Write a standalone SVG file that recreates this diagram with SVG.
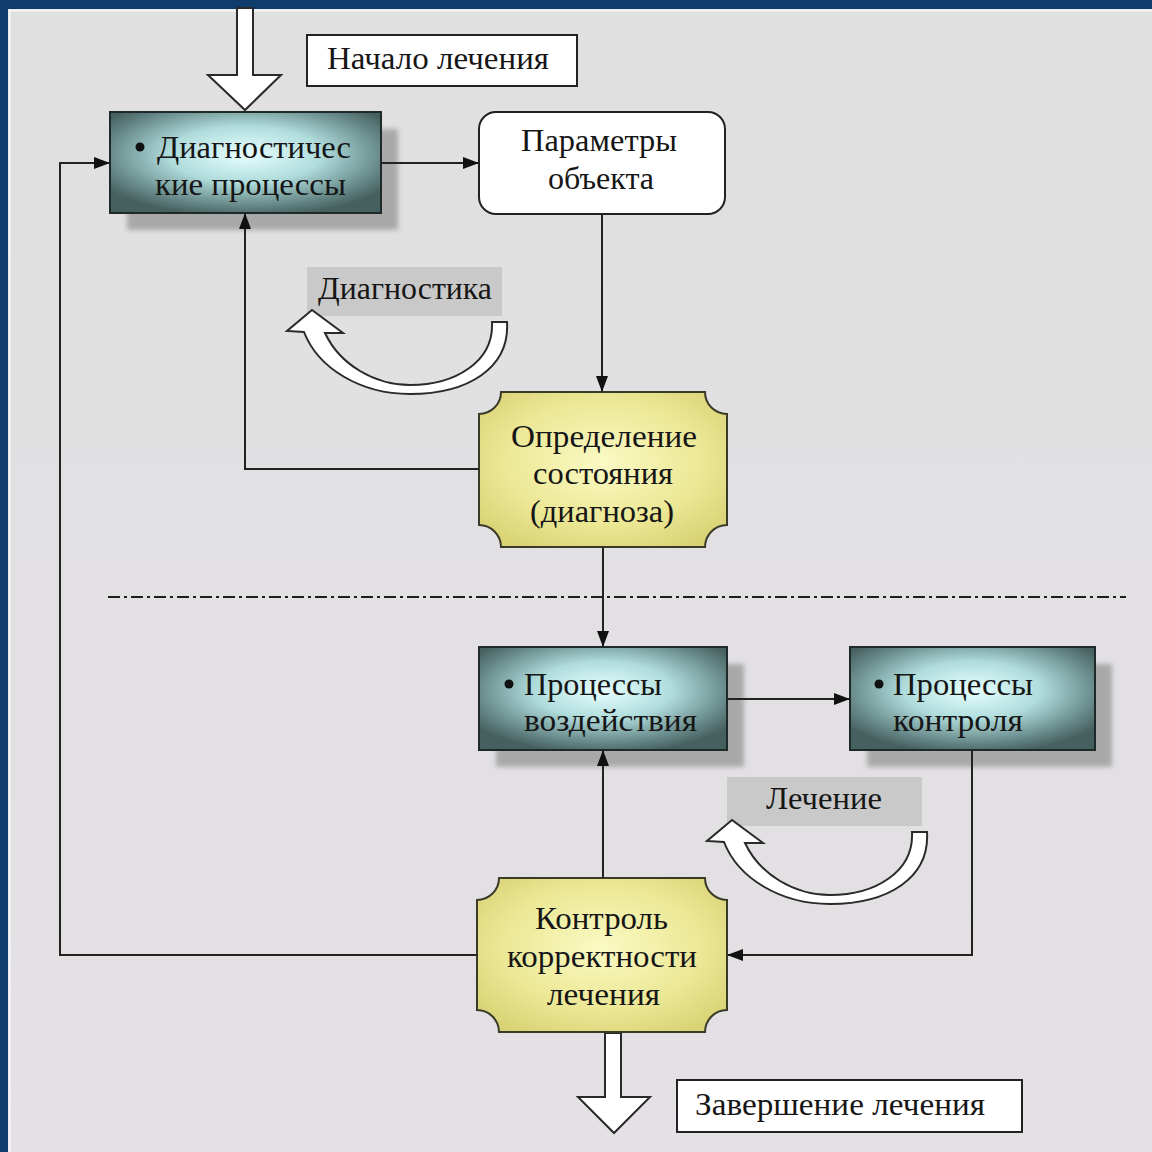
<svg xmlns="http://www.w3.org/2000/svg" width="1152" height="1152" viewBox="0 0 1152 1152">
<defs>
<style>
.t{font-family:"Liberation Serif","Times New Roman",serif;font-size:32px;fill:#161616}
.c{stroke:#222;stroke-width:2;fill:none}
.lbl{fill:#fff;stroke:#222;stroke-width:2}
.glbl{fill:#c9c9c9}
.dark{fill:url(#gDark);stroke:#1e2a2a;stroke-width:2}
.yel{fill:url(#gYel);stroke:#3a3a28;stroke-width:2}
.sh{fill:#a9a9a9;filter:url(#blur)}
.hollow{fill:#fff;stroke:#2a2a2a;stroke-width:2;stroke-linejoin:miter}
</style>
<radialGradient id="gDark" cx="50%" cy="42%" r="62%">
<stop offset="0" stop-color="#e8ffff"/>
<stop offset="0.45" stop-color="#b0dcdc"/>
<stop offset="0.8" stop-color="#6a8c8c"/>
<stop offset="1" stop-color="#46605f"/>
</radialGradient>
<radialGradient id="gYel" cx="50%" cy="45%" r="65%">
<stop offset="0" stop-color="#fafac4"/>
<stop offset="0.6" stop-color="#ece896"/>
<stop offset="1" stop-color="#d8d274"/>
</radialGradient>
<linearGradient id="gPanel" x1="0" y1="0" x2="0" y2="1">
<stop offset="0" stop-color="#e0e0e0"/>
<stop offset="1" stop-color="#e4e0e5"/>
</linearGradient>
<filter id="blur" x="-10%" y="-10%" width="120%" height="120%"><feGaussianBlur stdDeviation="2.5"/></filter>
<marker id="ah" markerUnits="userSpaceOnUse" markerWidth="16" markerHeight="12" refX="15" refY="6" orient="auto">
<path d="M0 0 L16 6 L0 12 Z" fill="#111"/>
</marker>
<path id="curl" class="hollow" d="M492 322 L507 322 C510 368 468 394 410 394 C360 394 318 368 304 332 L287 331 L312 310 L343 333 L325 333 C340 365 375 385 410 385 C455 385 494 362 492 322 Z"/>
</defs>

<rect x="0" y="0" width="1152" height="1152" fill="#0f3b6d"/>
<rect x="8" y="9" width="1144" height="1143" fill="url(#gPanel)"/>
<path d="M9.5 1152 V10.5 H1152" fill="none" stroke="#f6f6f6" stroke-width="2"/>

<line x1="108" y1="597" x2="1126" y2="597" stroke="#1e1e1e" stroke-width="2" stroke-dasharray="12 4 3 4"/>

<g id="start-arrow">
<path class="hollow" d="M237 8 H253 V75 H281 L245 110 L208 75 H237 Z"/>
</g>
<g id="end-arrow">
<path class="hollow" d="M605 1033 H621 V1097 H650 L614 1133 L578 1097 H605 Z"/>
</g>

<g id="start-label">
<rect class="lbl" x="307" y="35" width="270" height="51"/>
<text class="t" x="327" y="69" textLength="222" lengthAdjust="spacingAndGlyphs">Начало лечения</text>
</g>

<g id="diag-processes">
<rect class="sh" x="127" y="129" width="271" height="101"/>
<rect class="dark" x="110" y="112" width="271" height="101"/>
<circle cx="140" cy="147" r="4.5" fill="#111"/>
<text class="t" x="157" y="158" textLength="194" lengthAdjust="spacingAndGlyphs">Диагностичес</text>
<text class="t" x="155" y="195" textLength="191" lengthAdjust="spacingAndGlyphs">кие процессы</text>
</g>

<g id="object-params">
<rect class="lbl" x="479" y="112" width="246" height="102" rx="17"/>
<text class="t" x="521" y="151" textLength="156" lengthAdjust="spacingAndGlyphs">Параметры</text>
<text class="t" x="548" y="189" textLength="106" lengthAdjust="spacingAndGlyphs">объекта</text>
</g>

<g id="diagnostics-label">
<rect class="glbl" x="307" y="267" width="195" height="49"/>
<text class="t" x="318" y="299" textLength="174" lengthAdjust="spacingAndGlyphs">Диагностика</text>
<use href="#curl"/>
</g>

<g id="state-definition">
<path class="yel" d="M501 392 H705 A22 22 0 0 0 727 414 V525 A22 22 0 0 0 705 547 H501 A22 22 0 0 0 479 525 V414 A22 22 0 0 0 501 392 Z"/>
<text class="t" x="511" y="447" textLength="186" lengthAdjust="spacingAndGlyphs">Определение</text>
<text class="t" x="533" y="484" textLength="140" lengthAdjust="spacingAndGlyphs">состояния</text>
<text class="t" x="530" y="522" textLength="144" lengthAdjust="spacingAndGlyphs">(диагноза)</text>
</g>

<g id="impact-processes">
<rect class="sh" x="496" y="664" width="248" height="103"/>
<rect class="dark" x="479" y="647" width="248" height="103"/>
<circle cx="509" cy="684" r="4.5" fill="#111"/>
<text class="t" x="524" y="695" textLength="138" lengthAdjust="spacingAndGlyphs">Процессы</text>
<text class="t" x="524" y="731" textLength="173" lengthAdjust="spacingAndGlyphs">воздействия</text>
</g>

<g id="control-processes">
<rect class="sh" x="867" y="664" width="245" height="103"/>
<rect class="dark" x="850" y="647" width="245" height="103"/>
<circle cx="879" cy="684" r="4.5" fill="#111"/>
<text class="t" x="893" y="695" textLength="140" lengthAdjust="spacingAndGlyphs">Процессы</text>
<text class="t" x="893" y="731" textLength="130" lengthAdjust="spacingAndGlyphs">контроля</text>
</g>

<g id="treatment-label">
<rect class="glbl" x="727" y="777" width="195" height="49"/>
<text class="t" x="766" y="809" textLength="116" lengthAdjust="spacingAndGlyphs">Лечение</text>
<use href="#curl" transform="translate(420 510)"/>
</g>

<g id="treatment-check">
<path class="yel" d="M499 878 H705 A22 22 0 0 0 727 900 V1010 A22 22 0 0 0 705 1032 H499 A22 22 0 0 0 477 1010 V900 A22 22 0 0 0 499 878 Z"/>
<text class="t" x="535" y="929" textLength="133" lengthAdjust="spacingAndGlyphs">Контроль</text>
<text class="t" x="507" y="967" textLength="190" lengthAdjust="spacingAndGlyphs">корректности</text>
<text class="t" x="547" y="1005" textLength="113" lengthAdjust="spacingAndGlyphs">лечения</text>
</g>

<g id="end-label">
<rect class="lbl" x="677" y="1080" width="345" height="52"/>
<text class="t" x="695" y="1115" textLength="290" lengthAdjust="spacingAndGlyphs">Завершение лечения</text>
</g>

<g id="connectors">
<path class="c" d="M381 163 H478" marker-end="url(#ah)"/>
<path class="c" d="M602 214 V391" marker-end="url(#ah)"/>
<path class="c" d="M479 469 H245 V214" marker-end="url(#ah)"/>
<path class="c" d="M603 547 V646" marker-end="url(#ah)"/>
<path class="c" d="M727 699 H849" marker-end="url(#ah)"/>
<path class="c" d="M972 750 V955 H728" marker-end="url(#ah)"/>
<path class="c" d="M603 878 V751" marker-end="url(#ah)"/>
<path class="c" d="M477 955 H60 V163 H109" marker-end="url(#ah)"/>
</g>
</svg>
